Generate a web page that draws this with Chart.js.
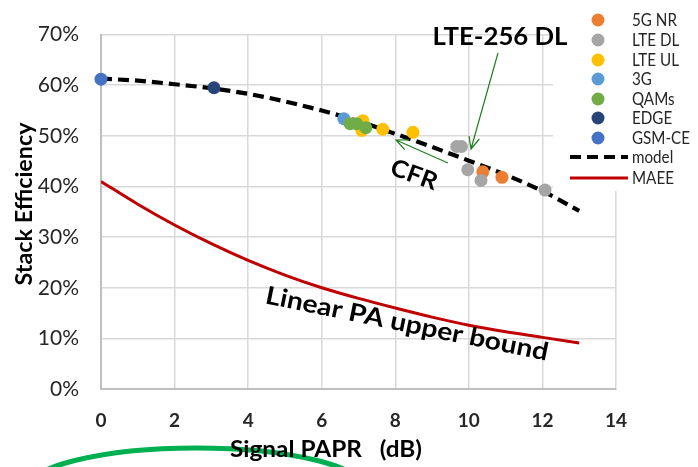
<!DOCTYPE html>
<html>
<head>
<meta charset="utf-8">
<script src="https://cdn.jsdelivr.net/npm/chart.js@4.4.1/dist/chart.umd.min.js"></script>
<style>
  html, body { margin: 0; padding: 0; background: #fff; }
  #wrap { width: 698px; height: 467px; }
</style>
</head>
<body>
<div id="wrap"><canvas id="effChart" width="698" height="467"></canvas></div>
<script>
// model curves (x = signal PAPR in dB, y = efficiency in %)
const modelPapr = [0, 1, 2, 3, 4, 5, 6, 7, 8, 9, 10, 11, 12, 13];
const modelEff = [61.3, 60.9, 60.2, 59.4, 58.3, 56.8, 55.0, 52.9, 50.4, 47.8, 45.1, 42.3, 39.1, 35.2];
const maeeEff = [41.0, 36.5, 32.4, 28.7, 25.4, 22.5, 20.0, 17.9, 16.0, 14.2, 12.6, 11.3, 10.2, 9.1];

// measured signals
const nrPapr = [10.38, 10.9];
const nrEff = [42.9, 41.8];
const lteDlPapr = [9.67, 9.8, 9.97, 10.33, 12.07];
const lteDlEff = [47.9, 47.9, 43.3, 41.2, 39.3];
const lteUlPapr = [7.12, 7.09, 7.66, 8.48];
const lteUlEff = [53.0, 51.1, 51.3, 50.7];
const g3Papr = [6.6];
const g3Eff = [53.4];
const qamPapr = [6.77, 6.95, 7.2];
const qamEff = [52.4, 52.4, 51.6];
const edgePapr = [3.07];
const edgeEff = [59.5];
const gsmPapr = [0];
const gsmEff = [61.2];

const xTicks = [0, 2, 4, 6, 8, 10, 12, 14];
const yTicks = [0, 10, 20, 30, 40, 50, 60, 70];

const FONT = "Lato, 'Liberation Sans', Arial, sans-serif";
const TXT = "#262626";

function pts(xs, ys) {
    return xs.map((x, i) => ({ x: x, y: ys[i] }));
}

const pointSeries = [
    { label: "5G NR", color: "#ED7D31", xs: nrPapr, ys: nrEff },
    { label: "LTE DL", color: "#A5A5A5", xs: lteDlPapr, ys: lteDlEff },
    { label: "LTE UL", color: "#FFC000", xs: lteUlPapr, ys: lteUlEff },
    { label: "3G", color: "#5B9BD5", xs: g3Papr, ys: g3Eff },
    { label: "QAMs", color: "#70AD47", xs: qamPapr, ys: qamEff },
    { label: "EDGE", color: "#264478", xs: edgePapr, ys: edgeEff },
    { label: "GSM-CE", color: "#4472C4", xs: gsmPapr, ys: gsmEff },
];

const datasets = pointSeries.map((s, i) => ({
    type: "scatter",
    label: s.label,
    data: pts(s.xs, s.ys),
    backgroundColor: s.color,
    borderWidth: 0,
    pointRadius: 6.5,
    clip: false,
    order: 20 - i,
}));
datasets.push({
    type: "line",
    label: "model",
    data: pts(modelPapr, modelEff),
    borderColor: "#000",
    borderWidth: 4.2,
    borderDash: [11, 6],
    pointRadius: 0,
    cubicInterpolationMode: "monotone",
    order: 100,
});
datasets.push({
    type: "line",
    label: "MAEE",
    data: pts(modelPapr, maeeEff),
    borderColor: "#C00000",
    borderWidth: 3,
    pointRadius: 0,
    cubicInterpolationMode: "monotone",
    order: 101,
});

function arrow(ctx, x1, y1, x2, y2) {
    const a = Math.atan2(y2 - y1, x2 - x1);
    const len = 13, spread = 0.42;
    ctx.beginPath();
    ctx.moveTo(x1, y1);
    ctx.lineTo(x2, y2);
    ctx.moveTo(x2 - len * Math.cos(a - spread), y2 - len * Math.sin(a - spread));
    ctx.lineTo(x2, y2);
    ctx.lineTo(x2 - len * Math.cos(a + spread), y2 - len * Math.sin(a + spread));
    ctx.stroke();
}

// text with a given size, squeezed sideways to a given width (Calibri is narrower than Lato)
function drawText(ctx, text, x, y, deg, weight, size, width, align) {
    ctx.save();
    ctx.font = weight + " " + size + "px " + FONT;
    const sx = width ? width / ctx.measureText(text).width : 1;
    ctx.translate(x, y);
    ctx.rotate(deg * Math.PI / 180);
    ctx.scale(sx, 1);
    ctx.textAlign = align || "center";
    ctx.textBaseline = "middle";
    ctx.fillText(text, 0, 0);
    ctx.restore();
}

const legendPlugin = {
    id: "boxLegend",
    beforeDatasetsDraw(chart) {
        const ctx = chart.ctx;
        ctx.save();
        ctx.fillStyle = "#fff";
        ctx.fillRect(553, 0, 145, 191);
        ctx.restore();
    },
    afterDraw(chart) {
        const ctx = chart.ctx;
        ctx.save();
        // legend
        const rows = [20, 40, 60, 79, 99, 118, 138, 157, 178];
        ctx.font = "16.5px " + FONT;
        const squeeze = 58 / ctx.measureText("GSM-CE").width;
        pointSeries.forEach((s, i) => {
            ctx.fillStyle = s.color;
            ctx.beginPath();
            ctx.arc(598, rows[i], 6.5, 0, Math.PI * 2);
            ctx.fill();
        });
        ctx.fillStyle = TXT;
        const labels = pointSeries.map(s => s.label).concat(["model", "MAEE"]);
        labels.forEach((t, i) => {
            ctx.font = "16.5px " + FONT;
            const w = ctx.measureText(t).width * squeeze;
            drawText(ctx, t, 632, rows[i] + 1, 0, "normal", 16.5, w, "left");
        });
        ctx.strokeStyle = "#000";
        ctx.lineWidth = 4.2;
        ctx.setLineDash([11, 6]);
        ctx.beginPath();
        ctx.moveTo(570, rows[7]);
        ctx.lineTo(628, rows[7]);
        ctx.stroke();
        ctx.setLineDash([]);
        ctx.strokeStyle = "#C00000";
        ctx.lineWidth = 3;
        ctx.beginPath();
        ctx.moveTo(570, rows[8]);
        ctx.lineTo(628, rows[8]);
        ctx.stroke();

        // annotations
        ctx.fillStyle = "#000";
        drawText(ctx, "LTE-256 DL", 500, 37, 0, "bold", 25, 135);
        drawText(ctx, "CFR", 414, 175, 20, "bold", 24, 48);
        drawText(ctx, "Linear PA upper bound", 407, 324, 11.5, "bold", 25, 288);
        ctx.strokeStyle = "#1F7F1F";
        ctx.lineWidth = 1.2;
        arrow(ctx, 498, 53, 471, 149);
        arrow(ctx, 448, 163, 396, 140);

        // green arc at the bottom
        ctx.strokeStyle = "#00B050";
        ctx.lineWidth = 5;
        ctx.beginPath();
        ctx.ellipse(196, 490, 170, 42, 0, Math.PI, Math.PI * 2);
        ctx.stroke();

        // axis titles
        ctx.fillStyle = "#000";
        drawText(ctx, "Signal PAPR   (dB)", 326, 449, 0, "bold", 23.5, 192);
        drawText(ctx, "Stack Efficiency", 24, 204, -90, "bold", 23.5, 163);
        ctx.restore();
    },
};

const ctx = document.getElementById("effChart").getContext("2d");
new Chart(ctx, {
    data: { datasets: datasets },
    plugins: [legendPlugin],
    options: {
        responsive: false,
        animation: false,
        layout: { padding: { top: 21, right: 82, left: 0, bottom: 0 } },
        plugins: {
            legend: { display: false },
            tooltip: { enabled: false },
        },
        scales: {
            x: {
                type: "linear",
                min: 0,
                max: 14,
                afterBuildTicks: (s) => { s.ticks = xTicks.map(v => ({ value: v })); },
                afterFit: (s) => { s.height = 78; },
                ticks: { font: { family: FONT, size: 19, weight: "bold" }, color: TXT, padding: 20 },
                grid: { color: "#D9D9D9", lineWidth: 1.5, drawTicks: false },
                border: { color: "#BFBFBF", width: 2 },
            },
            y: {
                min: 0,
                max: 70,
                afterBuildTicks: (s) => { s.ticks = yTicks.map(v => ({ value: v })); },
                afterFit: (s) => { s.width = 101; },
                ticks: {
                    font: { family: FONT, size: 21 },
                    color: TXT,
                    padding: 22,
                    callback: (v) => v + "%",
                },
                grid: { color: "#D9D9D9", lineWidth: 1.5, drawTicks: false },
                border: { color: "#BFBFBF", width: 2 },
            },
        },
    },
});
</script>
</body>
</html>
